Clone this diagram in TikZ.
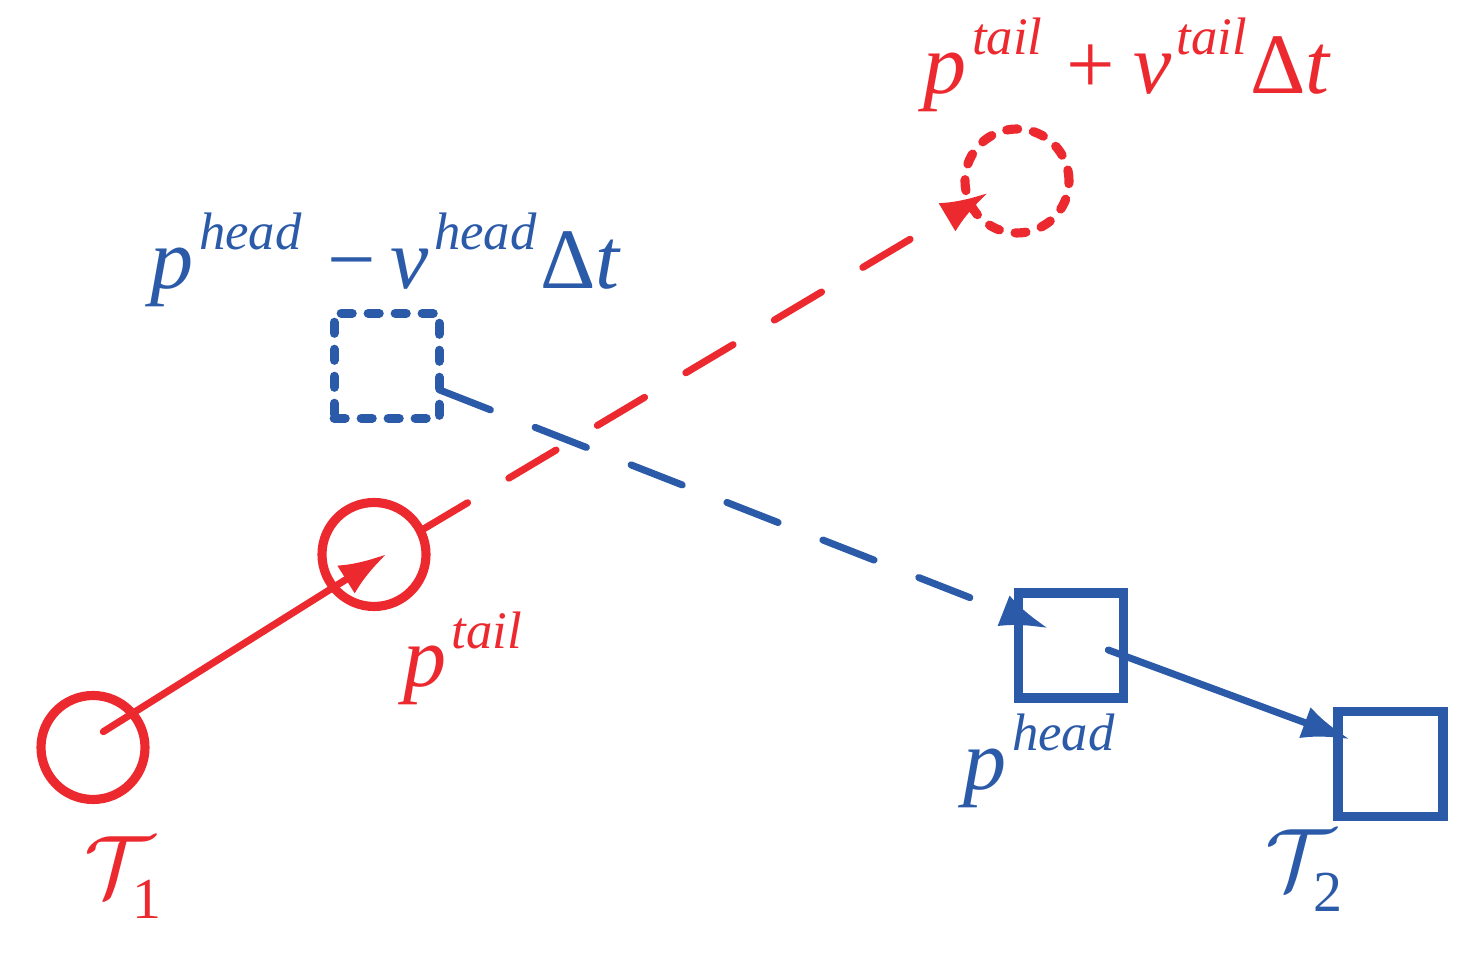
\documentclass[tikz,border=0pt]{standalone}
\usepackage{fontspec}
\setmainfont{Liberation Serif}
\usetikzlibrary{calc,arrows.meta,shapes}
\definecolor{trkred}{RGB}{237,41,48}
\definecolor{trkblue}{RGB}{43,90,168}
\tikzset{>={Latex[length=4.8mm,width=3.3mm]}}
\newcommand{\pv}[2]{\textit{#1}\kern1.5pt\raisebox{11pt}{\fontsize{15}{17}\selectfont\textit{#2}}}
\newcommand{\trk}[1]{$\mathcal{T}_{\raisebox{-2.3pt}{\fontsize{16.5}{18}\selectfont #1}}$}

\begin{document}
\begin{tikzpicture}[
    obj/.style={line width=2.6pt, inner sep=0pt, outer sep=0pt},
    circ/.style={obj, circle, draw=trkred, minimum size=1.04cm},
    sq/.style={obj, rectangle, draw=trkblue, minimum size=1.05cm},
    dotline/.style={dash pattern=on 1.1mm off 1.6mm, line cap=round},
    dashline/.style={line width=2pt, dash pattern=on 5.5mm off 4.8mm, line cap=round},
    mv/.style={line width=2pt, line cap=round},
    lbl/.style={inner sep=0pt, anchor=base west, font=\fontsize{24.5}{29}\selectfont},
    cal/.style={inner sep=0pt, anchor=base west, font=\fontsize{32}{34}\selectfont},
  ]
  \useasboundingbox (0,0) rectangle (14.66,9.53);
  % tracklet 1 (circles)
  \node[circ] (T1) at (0.93,2.055) {};
  \node[circ] (ptail) at (3.74,3.985) {};
  \node[circ, dotline] (ptailpred) at (10.17,7.72) {};
  % tracklet 2 (squares)
  \node[sq] (T2) at (13.905,1.892) {};
  \node[sq] (phead) at (10.708,3.075) {};
  \node[sq, dotline] (pheadpred) at (3.867,5.872) {};

  \draw[mv, trkred, ->] ($(T1)+(0.103,0.158)$) -- ($(ptail)+(0.127,0.005)$);
  \draw[dashline, trkred, ->] (ptail.27) -- ($(ptailpred)+(-0.287,-0.117)$);
  \draw[dashline, trkblue, ->] ($(pheadpred.east)+(0,-0.24)$) -- ($(phead)+(-0.225,0.172)$);
  \draw[mv, trkblue, ->] ($(phead)+(0.375,-0.045)$) -- ($(T2)+(-0.405,0.245)$);

  % labels
  \node[lbl, text=trkred] (lpred1) at (9.23,8.597)
    {\pv{p}{tail}\hspace{7pt}+\hspace{5pt}\pv{v}{tail}\hspace{1pt}Δ\textit{t}};
  \node[lbl, text=trkblue] (lpred2) at (1.50,6.647)
    {\pv{p}{head}\hspace{7.5pt}−\hspace{4pt}\pv{v}{head}\hspace{1pt}Δ\textit{t}};
  \node[lbl, text=trkred] (lptail) at (4.027,2.663) {\pv{p}{tail}};
  \node[lbl, text=trkblue] (lphead) at (9.63,1.637) {\pv{p}{head}};
  \node[cal, text=trkred] (lT1) at (0.84,0.56) {\trk{1}};
  \node[cal, text=trkblue] (lT2) at (12.65,0.63) {\trk{2}};
\end{tikzpicture}
\end{document}
